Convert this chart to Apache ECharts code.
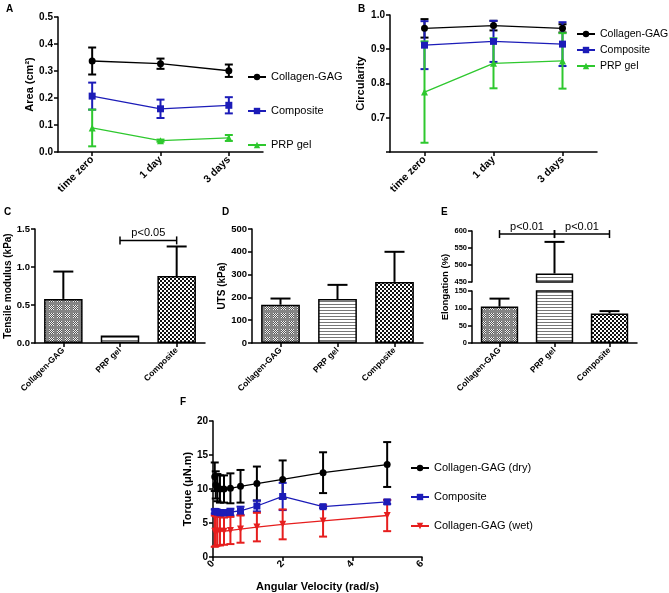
<!DOCTYPE html>
<html><head><meta charset="utf-8">
<script src="https://cdn.jsdelivr.net/npm/echarts@6/dist/echarts.min.js"></script>
<style>html,body{margin:0;padding:0;background:#fff}#c{width:669px;height:593px}</style>
</head><body><div id="c"></div>
<script>
// ---------- DATA ----------
const timeCats = ['time zero', '1 day', '3 days'];
const lineNames = ['Collagen-GAG', 'Composite', 'PRP gel'];

const areaCG = [0.337, 0.327, 0.301];
const areaCGErr = [0.050, 0.019, 0.023];
const areaComp = [0.207, 0.160, 0.173];
const areaCompErr = [0.050, 0.034, 0.030];
const areaPRP = [0.089, 0.042, 0.052];
const areaPRPErr = [0.068, 0.004, 0.011];

const circCG = [0.961, 0.969, 0.961];
const circCGErr = [0.027, 0.014, 0.012];
const circComp = [0.912, 0.923, 0.915];
const circCompErr = [0.070, 0.060, 0.064];
const circPRP = [0.775, 0.859, 0.866];
const circPRPErr = [0.148, 0.073, 0.081];

const barCats = ['Collagen-GAG', 'PRP gel', 'Composite'];
const modulus = [0.58, 0.10, 0.88];
const modulusErr = [0.36, 0, 0.39];
const uts = [168, 193, 268];
const utsErr = [27, 62, 132];
const elong = [105, 475, 85];
const elongErr = [23, 93, 7];

const sigC = [[1, 2, 1.35, 'p<0.05']];
const sigE = [[0, 1, 591, 'p<0.01'], [1, 2, 591, 'p<0.01']];

const fNames = ['Collagen-GAG (dry)', 'Composite', 'Collagen-GAG (wet)'];
const omega = [0.05, 0.079, 0.126, 0.2, 0.316, 0.5, 0.79, 1.26, 2, 3.16, 5];
const torqueDry = [11.8, 10.6, 10.2, 10.0, 10.0, 10.1, 10.4, 10.8, 11.4, 12.4, 13.6];
const torqueDryErr = [2.1, 2.0, 2.0, 2.0, 2.0, 2.2, 2.4, 2.5, 2.8, 3.0, 3.3];
const torqueComp = [6.7, 6.7, 6.6, 6.5, 6.5, 6.6, 6.8, 7.5, 8.9, 7.4, 8.1];
const torqueCompErr = [0.3, 0.3, 0.3, 0.4, 0.4, 0.5, 0.6, 0.8, 2.0, 0.2, 0.3];
const torqueWet = [3.8, 3.8, 3.8, 3.8, 3.8, 3.9, 4.1, 4.4, 4.8, 5.3, 6.1];
const torqueWetErr = [2.3, 2.2, 2.1, 2.1, 2.0, 2.0, 2.0, 2.1, 2.2, 2.3, 2.3];

// ---------- STYLE ----------
const FONT = '"Liberation Sans", Arial, sans-serif';
const BLACK = '#000000', BLUE = '#1c1cb8', GREEN = '#2ec82e', RED = '#e61e1e';

function pattern(type) {
  const c = document.createElement('canvas');
  const g = c.getContext('2d');
  if (type === 'cg') {
    c.width = c.height = 8;
    g.fillStyle = '#858585'; g.fillRect(0, 0, 8, 8);
    for (let y = 1; y < 6; y++) for (let x = 1; x < 6; x++) {
      g.fillStyle = ((x + y) % 2 === 0) ? '#f0f0f0' : '#555555';
      g.fillRect(x, y, 1, 1);
    }
  } else if (type === 'prp') {
    c.width = 4; c.height = 3;
    g.fillStyle = '#ffffff'; g.fillRect(0, 0, 4, 3);
    g.fillStyle = '#777777'; g.fillRect(0, 1, 4, 1);
  } else {
    c.width = c.height = 4;
    g.fillStyle = '#ffffff'; g.fillRect(0, 0, 4, 4);
    g.fillStyle = '#111111'; g.fillRect(0, 0, 2, 2); g.fillRect(2, 2, 2, 2);
  }
  return { image: c, repeat: 'repeat' };
}
const barFills = [pattern('cg'), pattern('prp'), pattern('comp')];

function errRender(color, cap) {
  return function (params, api) {
    const x = api.value(0), v = api.value(1), e = api.value(2);
    const hi = api.coord([x, v + e]), lo = api.coord([x, v - e]);
    const st = { stroke: color, lineWidth: 2 };
    return { type: 'group', children: [
      { type: 'line', shape: { x1: hi[0], y1: hi[1], x2: lo[0], y2: lo[1] }, style: st },
      { type: 'line', shape: { x1: hi[0] - cap, y1: hi[1], x2: hi[0] + cap, y2: hi[1] }, style: st },
      { type: 'line', shape: { x1: lo[0] - cap, y1: lo[1], x2: lo[0] + cap, y2: lo[1] }, style: st }
    ] };
  };
}
function barErrRender(params, api) {
  const x = api.value(0), v = api.value(1), e = api.value(2);
  const a = api.coord([x, v]), b = api.coord([x, v + e]);
  const st = { stroke: '#000', lineWidth: 2 };
  return { type: 'group', children: [
    { type: 'line', shape: { x1: a[0], y1: a[1], x2: b[0], y2: b[1] }, style: st },
    { type: 'line', shape: { x1: b[0] - 10, y1: b[1], x2: b[0] + 10, y2: b[1] }, style: st }
  ] };
}
function sigRender(params, api) {
  const x1 = api.value(0), x2 = api.value(1), y = api.value(2);
  const label = sigLabels[params.seriesName][params.dataIndex];
  const p1 = api.coord([x1, y]), p2 = api.coord([x2, y]);
  const st = { stroke: '#000', lineWidth: 1.5 };
  return { type: 'group', children: [
    { type: 'line', shape: { x1: p1[0], y1: p1[1], x2: p2[0], y2: p2[1] }, style: st },
    { type: 'line', shape: { x1: p1[0], y1: p1[1] - 4, x2: p1[0], y2: p1[1] + 4 }, style: st },
    { type: 'line', shape: { x1: p2[0], y1: p2[1] - 4, x2: p2[0], y2: p2[1] + 4 }, style: st },
    { type: 'text', style: { text: label, x: (p1[0] + p2[0]) / 2, y: p1[1] - 2, textAlign: 'center', textVerticalAlign: 'bottom', fill: '#000', font: '11px ' + FONT } }
  ] };
}
const sigLabels = { sigC: sigC.map(d => d[3]), sigE: sigE.map(d => d[3]) };

const axisLineStyle = { show: true, lineStyle: { color: '#000', width: 1.5 } };
const tickStyle = { show: true, length: 4, lineStyle: { color: '#000', width: 1.5 } };

function catAxis(grid, data, size, show) {
  return {
    type: 'category', gridIndex: grid, data: data, boundaryGap: true, show: show !== false,
    axisLine: axisLineStyle, axisTick: Object.assign({ alignWithLabel: true }, tickStyle),
    axisLabel: { rotate: 45, margin: 6, fontSize: size, fontWeight: 'bold', fontFamily: FONT, color: '#000' },
    splitLine: { show: false }
  };
}
function valAxis(grid, min, max, interval, name, gap, size, fmt, nameSize) {
  return {
    type: 'value', gridIndex: grid, min: min, max: max, interval: interval,
    name: name, nameLocation: 'middle', nameGap: gap,
    nameTextStyle: { fontSize: nameSize || 11, fontWeight: 'bold', fontFamily: FONT, color: '#000' },
    axisLine: axisLineStyle, axisTick: tickStyle,
    axisLabel: { margin: 5, fontSize: size, fontWeight: 'bold', fontFamily: FONT, color: '#000', formatter: fmt },
    splitLine: { show: false }
  };
}
function lineSeries(name, xi, yi, data, color, symbol, rot) {
  return {
    type: 'line', name: name, xAxisIndex: xi, yAxisIndex: yi, data: data,
    symbol: symbol, symbolSize: 7, symbolRotate: rot || 0, z: 3,
    lineStyle: { color: color, width: 1.3 }, itemStyle: { color: color }, animation: false
  };
}
function errSeries(xi, yi, xs, vals, errs, color, cap) {
  return {
    type: 'custom', xAxisIndex: xi, yAxisIndex: yi, z: 2, silent: true, animation: false,
    renderItem: errRender(color, cap), encode: { x: 0, y: 1 },
    data: vals.map((v, i) => [xs[i], v, errs[i]])
  };
}
const idx3 = [0, 1, 2];
function barSeries(xi, yi, vals) {
  return {
    type: 'bar', xAxisIndex: xi, yAxisIndex: yi, barWidth: '68%', animation: false,
    data: vals.map((v, i) => (v === '-' ? '-' : { value: v, itemStyle: { color: barFills[i] } })),
    itemStyle: { borderColor: '#000', borderWidth: 1.5 }
  };
}
function barErrSeries(xi, yi, vals, errs, keep) {
  return {
    type: 'custom', xAxisIndex: xi, yAxisIndex: yi, z: 3, animation: false, silent: true,
    renderItem: barErrRender, encode: { x: 0, y: 1 },
    data: vals.map((v, i) => [i, v, errs[i]]).filter(d => d[2] > 0 && keep(d[1]))
  };
}
function sigSeries(name, xi, yi, rows) {
  return {
    type: 'custom', name: name, xAxisIndex: xi, yAxisIndex: yi, z: 4, animation: false, silent: true,
    renderItem: sigRender, encode: { x: 0, y: 2 },
    data: rows.map(r => [r[0], r[1], r[2]])
  };
}
const f1 = v => v.toFixed(1);
const f0 = v => String(v);
const legendText = { fontSize: 11, fontFamily: FONT, color: '#000', lineHeight: 13 };

const option = {
  backgroundColor: '#fff',
  animation: false,
  title: [
    ['A', 6, 4], ['B', 358, 4], ['C', 4, 207], ['D', 222, 207], ['E', 441, 207], ['F', 180, 397]
  ].map(t => ({ text: t[0], left: t[1], top: t[2], padding: 0, textStyle: { fontSize: 10, fontWeight: 'bold', fontFamily: FONT, color: '#000' } })),
  legend: [
    { orient: 'vertical', left: 242, top: 65.5, itemGap: 21, itemWidth: 18, itemHeight: 8, data: lineNames, textStyle: legendText, selectedMode: false },
    { orient: 'vertical', left: 571, top: 22.5, itemGap: 3, itemWidth: 18, itemHeight: 8, data: lineNames, textStyle: Object.assign({}, legendText, { fontSize: 10.5 }), selectedMode: false },
    { orient: 'vertical', left: 405, top: 456.5, itemGap: 16, itemWidth: 18, itemHeight: 8, data: fNames, textStyle: legendText, selectedMode: false }
  ],
  grid: [
    { left: 58, top: 17, width: 205, height: 135 },
    { left: 390, top: 15, width: 207, height: 137 },
    { left: 35, top: 229, width: 170, height: 114 },
    { left: 252, top: 229, width: 171, height: 114 },
    { left: 472, top: 231, width: 165, height: 51 },
    { left: 472, top: 291, width: 165, height: 52 },
    { left: 213, top: 421, width: 209, height: 138 }
  ],
  xAxis: [
    catAxis(0, timeCats, 10.5),
    catAxis(1, timeCats, 10.5),
    catAxis(2, barCats, 8.5),
    catAxis(3, barCats, 8.5),
    catAxis(4, barCats, 8.5, false),
    catAxis(5, barCats, 8.5),
    {
      type: 'value', gridIndex: 6, min: 0, max: 6, interval: 2,
      name: 'Angular Velocity (rad/s)', nameLocation: 'middle', nameGap: 24,
      nameTextStyle: { fontSize: 11, fontWeight: 'bold', fontFamily: FONT, color: '#000' },
      axisLine: axisLineStyle, axisTick: tickStyle,
      axisLabel: { rotate: 45, margin: 5, fontSize: 10, fontWeight: 'bold', fontFamily: FONT, color: '#000' },
      splitLine: { show: false }
    }
  ],
  yAxis: [
    valAxis(0, 0, 0.5, 0.1, 'Area (cm²)', 22, 10, f1),
    valAxis(1, 0.6, 1.0, 0.1, 'Circularity', 24, 10, v => (v < 0.65 ? '' : v.toFixed(1))),
    valAxis(2, 0, 1.5, 0.5, 'Tensile modulus (kPa)', 18, 9.5, f1, 10),
    valAxis(3, 0, 500, 100, 'UTS (kPa)', 19, 9.5, f0, 10),
    valAxis(4, 450, 600, 50, '', 0, 7.5, f0),
    valAxis(5, 0, 150, 50, '', 0, 7.5, f0),
    valAxis(6, 0, 20, 5, 'Torque (μN.m)', 19, 10, f0)
  ],
  graphic: [
    { type: 'text', x: 445, y: 287, rotation: Math.PI / 2,
      style: { text: 'Elongation (%)', fill: '#000', font: 'bold 9.5px ' + FONT, textAlign: 'center', textVerticalAlign: 'middle' } }
  ],
  series: [
    // A
    errSeries(0, 0, idx3, areaCG, areaCGErr, BLACK, 4),
    lineSeries('Collagen-GAG', 0, 0, areaCG, BLACK, 'circle'),
    errSeries(0, 0, idx3, areaComp, areaCompErr, BLUE, 4),
    lineSeries('Composite', 0, 0, areaComp, BLUE, 'rect'),
    errSeries(0, 0, idx3, areaPRP, areaPRPErr, GREEN, 4),
    lineSeries('PRP gel', 0, 0, areaPRP, GREEN, 'triangle'),
    // B
    errSeries(1, 1, idx3, circCG, circCGErr, BLACK, 4),
    lineSeries('Collagen-GAG', 1, 1, circCG, BLACK, 'circle'),
    errSeries(1, 1, idx3, circComp, circCompErr, BLUE, 4),
    lineSeries('Composite', 1, 1, circComp, BLUE, 'rect'),
    errSeries(1, 1, idx3, circPRP, circPRPErr, GREEN, 4),
    lineSeries('PRP gel', 1, 1, circPRP, GREEN, 'triangle'),
    // C
    barSeries(2, 2, modulus),
    barErrSeries(2, 2, modulus, modulusErr, () => true),
    sigSeries('sigC', 2, 2, sigC),
    // D
    barSeries(3, 3, uts),
    barErrSeries(3, 3, uts, utsErr, () => true),
    // E (broken axis)
    barSeries(4, 4, elong.map(v => (v >= 450 ? v : '-'))),
    barErrSeries(4, 4, elong, elongErr, v => v >= 450),
    sigSeries('sigE', 4, 4, sigE),
    barSeries(5, 5, elong),
    barErrSeries(5, 5, elong, elongErr, v => v <= 150),
    // F
    errSeries(6, 6, omega, torqueDry, torqueDryErr, BLACK, 4),
    lineSeries('Collagen-GAG (dry)', 6, 6, omega.map((x, i) => [x, torqueDry[i]]), BLACK, 'circle'),
    errSeries(6, 6, omega, torqueComp, torqueCompErr, BLUE, 4),
    lineSeries('Composite', 6, 6, omega.map((x, i) => [x, torqueComp[i]]), BLUE, 'rect'),
    errSeries(6, 6, omega, torqueWet, torqueWetErr, RED, 4),
    lineSeries('Collagen-GAG (wet)', 6, 6, omega.map((x, i) => [x, torqueWet[i]]), RED, 'triangle', 180)
  ]
};
const chart = echarts.init(document.getElementById('c'));
chart.setOption(option);
</script>
</body></html>
